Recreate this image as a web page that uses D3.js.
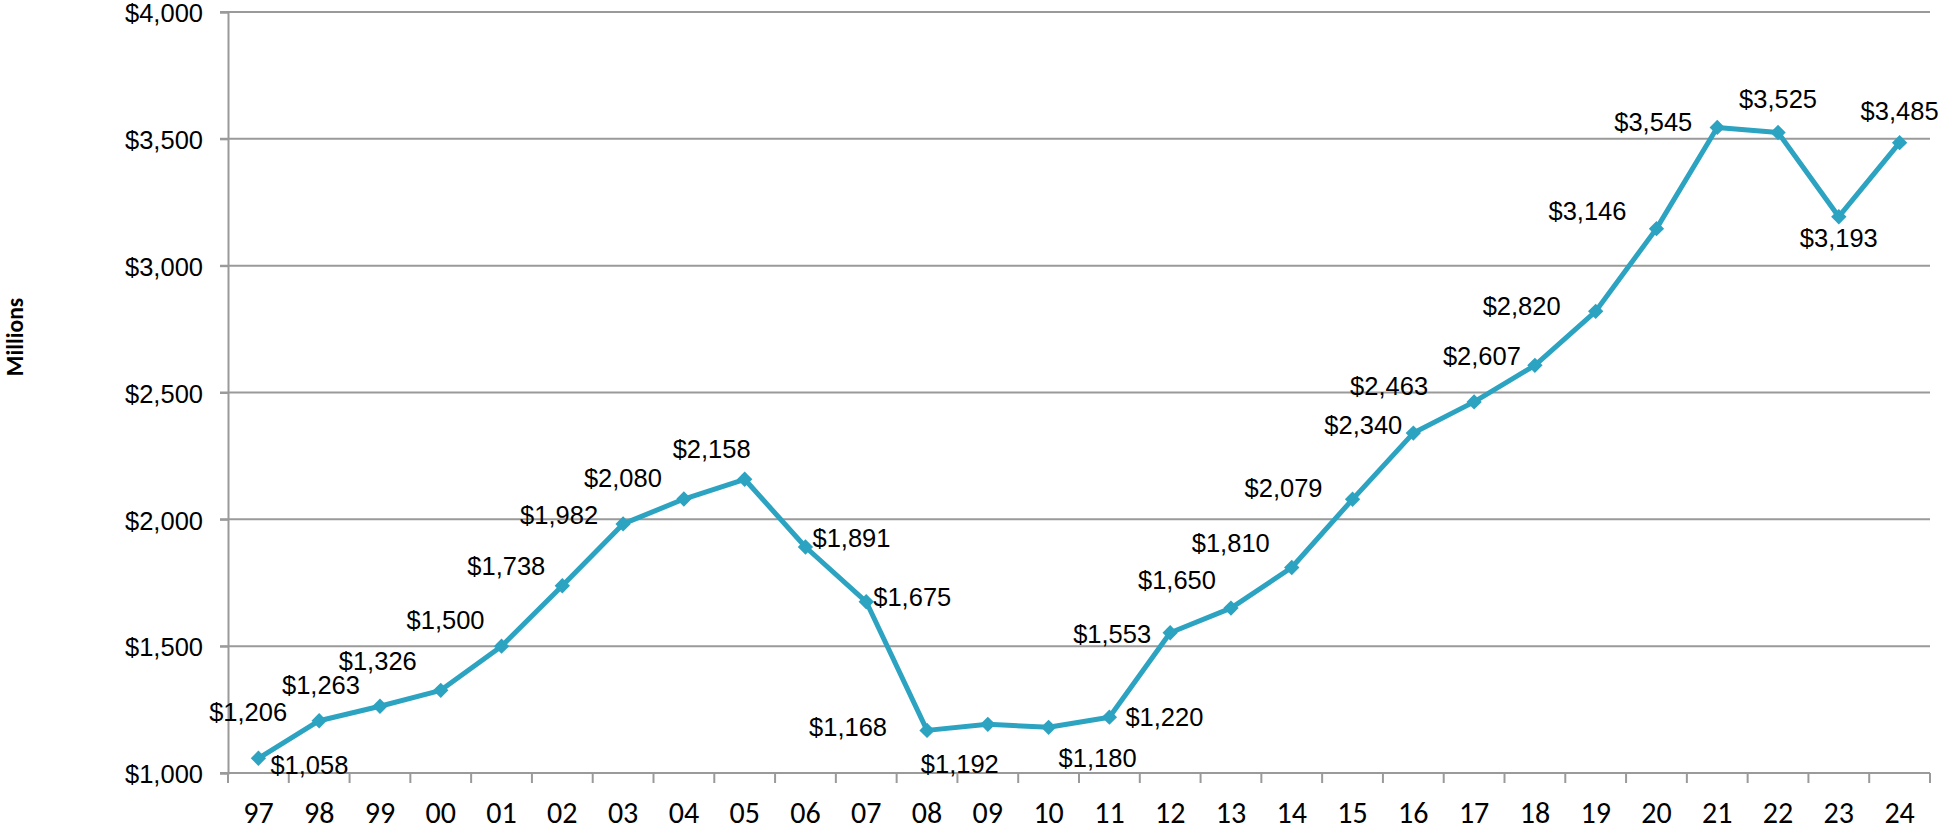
<!DOCTYPE html>
<html>
<head>
<meta charset="utf-8">
<script src="https://cdn.jsdelivr.net/npm/d3@7"></script>
<style>
  body { margin: 0; background: #fff; }
  svg { display: block; }
  .label { font-family: "Liberation Sans", Arial, sans-serif; font-size: 25.5px; fill: #000; }
</style>
</head>
<body>
<div id="chart"></div>
<script>
// fiscal years (two-digit) and values in $ millions
const years = ['97','98','99','00','01','02','03','04','05','06','07','08','09','10',
               '11','12','13','14','15','16','17','18','19','20','21','22','23','24'];
const values = [1058, 1206, 1263, 1326, 1500, 1738, 1982, 2080, 2158, 1891, 1675, 1168, 1192, 1180,
                1220, 1553, 1650, 1810, 2079, 2340, 2463, 2607, 2820, 3146, 3545, 3525, 3193, 3485];
// the labels as printed in the picture; they do not all sit beside their own point
const labelText = ['$1,058','$1,206','$1,263','$1,326','$1,500','$1,738','$1,982','$2,080','$2,158',
                   '$1,891','$1,675','$1,168','$1,192','$1,180','$1,220','$1,553','$1,650','$1,810',
                   '$2,079','$2,340','$2,463','$2,607','$2,820','$3,146','$3,545','$3,525','$3,193','$3,485'];
const yTicks = [1000, 1500, 2000, 2500, 3000, 3500, 4000];

// label offset from its marker (px)
const labelOffset = [
  [51, 7], [-71, -9], [-59, -21], [-63, -29], [-56, -26], [-56, -20], [-64, -9], [-61, -21],
  [-33, -30], [46, -9], [46, -5], [-79, -3], [-28, 40], [49, 31], [55, 0], [-58, 1],
  [-54, -28], [-61, -25], [-69, -11], [-50, -8], [-85, -16], [-53, -9], [-74, -5], [-69, -18],
  [-64, -5], [0, -33], [0, 21], [0, -32]
];

const W = 1944, H = 831;
const margin = {top: 12, right: 14, bottom: 58, left: 228};
const lineColor = '#2ca3c1';
const gridColor = '#9a9a9a';

const svg = d3.select('#chart')
  .append('svg')
  .attr('width', W)
  .attr('height', H);

const x = d3.scaleBand()
  .domain(years)
  .range([margin.left, W - margin.right]);

const y = d3.scaleLinear()
  .domain([1000, 4000])
  .range([H - margin.bottom, margin.top]);

// horizontal grid
svg.append('g')
  .selectAll('line')
  .data(yTicks)
  .join('line')
    .attr('x1', margin.left - 8)
    .attr('x2', W - margin.right)
    .attr('y1', d => y(d))
    .attr('y2', d => y(d))
    .attr('stroke', gridColor)
    .attr('stroke-width', 2);

// y axis
const yAxis = svg.append('g')
  .attr('transform', `translate(${margin.left},0)`)
  .call(d3.axisLeft(y)
    .tickValues(yTicks)
    .tickSize(8)
    .tickPadding(17)
    .tickFormat(d => '$' + d3.format(',')(d)));
yAxis.select('.domain').attr('stroke', gridColor).attr('stroke-width', 2);
yAxis.selectAll('.tick line').attr('stroke', gridColor).attr('stroke-width', 2);
yAxis.selectAll('text')
  .attr('font-family', '"Liberation Sans", Arial, sans-serif')
  .attr('font-size', 25.5)
  .attr('dy', '0.38em')
  .attr('fill', '#000');

// x axis: labels centred in the bands, ticks on the band edges
const xAxis = svg.append('g')
  .attr('transform', `translate(0,${H - margin.bottom})`)
  .call(d3.axisBottom(x).tickSize(0).tickPadding(29));
xAxis.select('.domain').remove();
xAxis.selectAll('text')
  .attr('font-family', 'Carlito, Calibri, sans-serif')
  .attr('font-size', 30)
  .attr('fill', '#000');

svg.append('line')
  .attr('x1', margin.left - 8)
  .attr('x2', W - margin.right)
  .attr('y1', y(1000))
  .attr('y2', y(1000))
  .attr('stroke', gridColor)
  .attr('stroke-width', 2);

const edges = years.map(d => x(d)).concat([x.range()[1]]);
svg.append('g')
  .selectAll('line')
  .data(edges)
  .join('line')
    .attr('x1', d => d)
    .attr('x2', d => d)
    .attr('y1', y(1000))
    .attr('y2', y(1000) + 10)
    .attr('stroke', gridColor)
    .attr('stroke-width', 2);

// y axis title
svg.append('text')
  .attr('transform', `translate(23,337) rotate(-90)`)
  .attr('text-anchor', 'middle')
  .attr('font-family', 'Carlito, Calibri, sans-serif')
  .attr('font-weight', 700)
  .attr('font-size', 23.5)
  .attr('fill', '#000')
  .text('Millions');

// the series
const cx = (d, i) => x(years[i]) + x.bandwidth() / 2;

const line = d3.line()
  .x(cx)
  .y(d => y(d));

svg.append('path')
  .datum(values)
  .attr('d', line)
  .attr('fill', 'none')
  .attr('stroke', lineColor)
  .attr('stroke-width', 5)
  .attr('stroke-linejoin', 'round');

svg.append('g')
  .selectAll('path')
  .data(values)
  .join('path')
    .attr('d', d3.symbol(d3.symbolDiamond2, 150))
    .attr('transform', (d, i) => `translate(${cx(d, i)},${y(d)})`)
    .attr('fill', lineColor);

// data labels
svg.append('g')
  .selectAll('text')
  .data(values)
  .join('text')
    .attr('class', 'label')
    .attr('text-anchor', 'middle')
    .attr('x', (d, i) => cx(d, i) + labelOffset[i][0])
    .attr('y', (d, i) => y(d) + labelOffset[i][1] + 9)
    .text((d, i) => labelText[i]);
</script>
</body>
</html>
